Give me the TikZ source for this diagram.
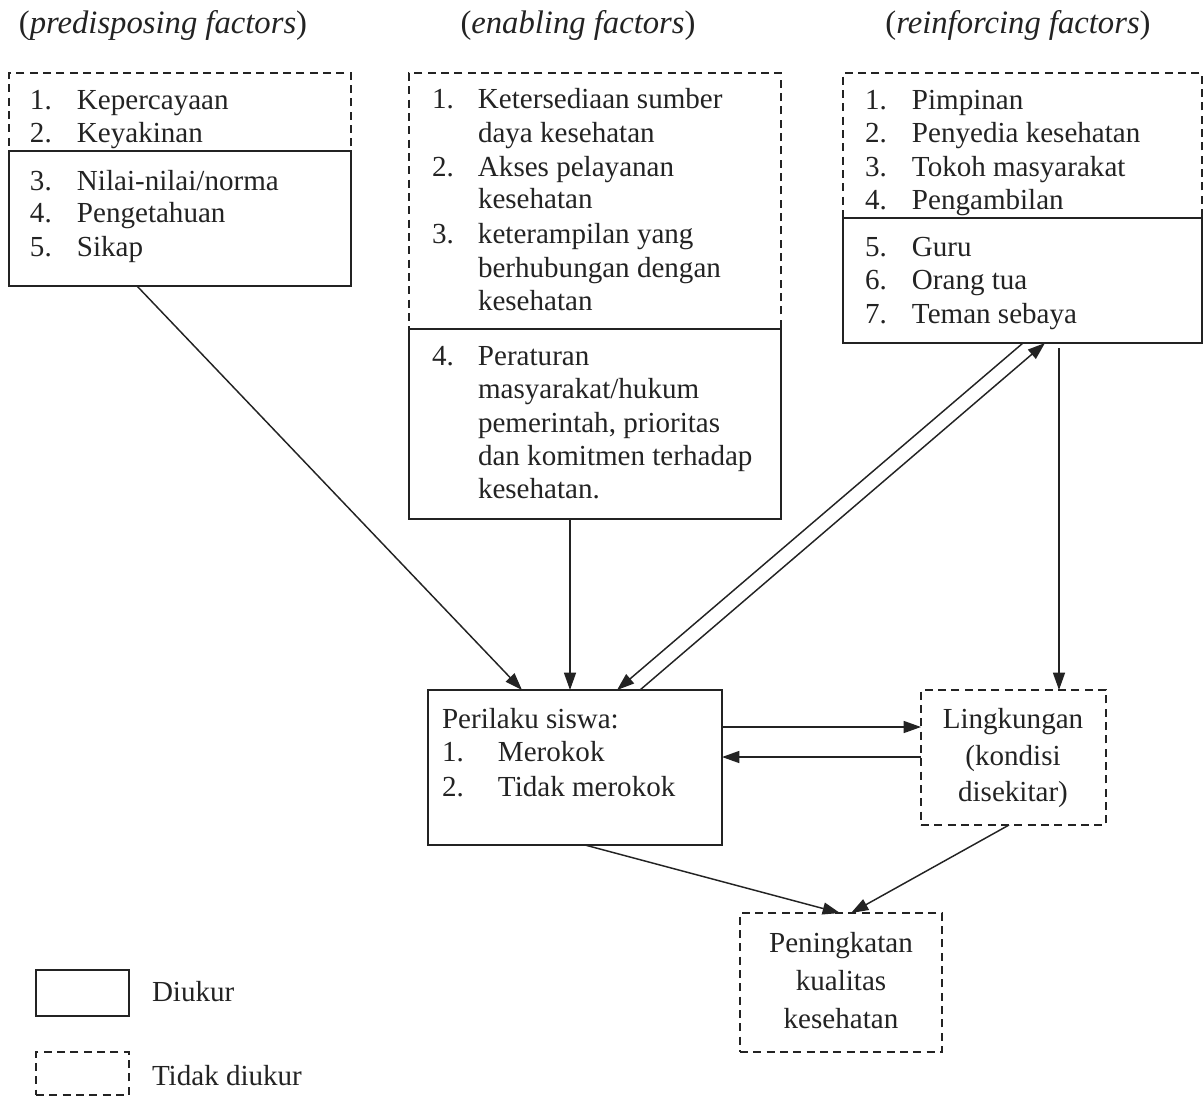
\documentclass[tikz,border=0pt]{standalone}
\usepackage{fontspec}
\setmainfont{Liberation Serif}
\usetikzlibrary{arrows.meta,calc}
\definecolor{ink}{RGB}{35,35,35}
\newcommand\mkbox[6]{\node[#1, minimum width={(#5-#3)*0.75pt}, minimum height={(#6-#4)*0.75pt}] (#2) at ({(#3+#5)/2},{(#4+#6)/2}) {};}
\newcommand\nl[6]{\node[txt,anchor=base west] (#1) at (#2,#3) {\makebox[#4pt][l]{#5}#6};}
\newcommand\li[4]{\node[txt,anchor=base west] (#1) at (#2,#3) {#4};}
\newcommand\ct[4]{\node[txt,anchor=base] (#1) at (#2,#3) {#4};}
\begin{document}
\begin{tikzpicture}[x=0.75pt,y=-0.75pt,
  solidbox/.style={draw=ink, line width=1.2pt, inner sep=0pt, outer sep=0pt, rectangle},
  dashbox/.style={draw=ink, line width=1.2pt, dash pattern=on 6pt off 4pt, inner sep=0pt, outer sep=0pt, rectangle},
  txt/.style={inner sep=0pt, outer sep=0pt, text=ink, font=\fontsize{21.8}{26}\selectfont},
  head/.style={txt, font=\fontsize{24.5}{29}\selectfont},
  arr/.style={draw=ink, line width=1.1pt, -{Triangle[length=13pt,width=9pt]}},
]
\useasboundingbox (0,0) rectangle (1204,1097);

% headers
\node[head, anchor=base] (h1) at (163,33) {(\textit{predisposing factors})};
\node[head, anchor=base] (h2) at (578,33) {(\textit{enabling factors})};
\node[head, anchor=base] (h3) at (1018,33) {(\textit{reinforcing factors})};

% boxes
\mkbox{dashbox}{preD}{9}{73}{351}{151}
\mkbox{solidbox}{preS}{9}{151}{351}{286}
\mkbox{dashbox}{enaD}{409}{73}{781}{329}
\mkbox{solidbox}{enaS}{409}{329}{781}{519}
\mkbox{dashbox}{reiD}{843}{73}{1202}{218}
\mkbox{solidbox}{reiS}{843}{218}{1202}{343}
\mkbox{solidbox}{per}{428}{690}{722}{845}
\mkbox{dashbox}{lin}{921}{690}{1106}{825}
\mkbox{dashbox}{pen}{740}{913}{942}{1052}
\mkbox{solidbox}{legS}{36}{970}{129}{1016}
\mkbox{dashbox}{legD}{36}{1052}{129}{1095}

% predisposing
\nl{pr1}{30}{109}{35.25}{1.}{Kepercayaan}
\nl{pr2}{30}{142}{35.25}{2.}{Keyakinan}
\nl{pr3}{30}{190}{35.25}{3.}{Nilai-nilai/norma}
\nl{pr4}{30}{222}{35.25}{4.}{Pengetahuan}
\nl{pr5}{30}{256}{35.25}{5.}{Sikap}

% enabling
\nl{en1}{432}{108}{34.5}{1.}{Ketersediaan sumber}
\li{en1b}{478}{142}{daya kesehatan}
\nl{en2}{432}{176}{34.5}{2.}{Akses pelayanan}
\li{en2b}{478}{208}{kesehatan}
\nl{en3}{432}{243}{34.5}{3.}{keterampilan yang}
\li{en3b}{478}{277}{berhubungan dengan}
\li{en3c}{478}{310}{kesehatan}
\nl{en4}{432}{365}{34.5}{4.}{Peraturan}
\li{en4b}{478}{398}{masyarakat/hukum}
\li{en4c}{478}{432}{pemerintah, prioritas}
\li{en4d}{478}{465}{dan komitmen terhadap}
\li{en4e}{478}{498}{kesehatan.}

% reinforcing
\nl{re1}{865}{109}{35.25}{1.}{Pimpinan}
\nl{re2}{865}{142}{35.25}{2.}{Penyedia kesehatan}
\nl{re3}{865}{176}{35.25}{3.}{Tokoh masyarakat}
\nl{re4}{865}{209}{35.25}{4.}{Pengambilan}
\nl{re5}{865}{256}{35.25}{5.}{Guru}
\nl{re6}{865}{289}{35.25}{6.}{Orang tua}
\nl{re7}{865}{323}{35.25}{7.}{Teman sebaya}

% perilaku
\li{pe0}{442}{728}{Perilaku siswa:}
\nl{pe1}{442}{761}{42}{1.}{Merokok}
\nl{pe2}{442}{796}{42}{2.}{Tidak merokok}

% lingkungan
\ct{ln1}{1013}{728}{Lingkungan}
\ct{ln2}{1013}{765}{(kondisi}
\ct{ln3}{1013}{801}{disekitar)}

% peningkatan
\ct{pk1}{841}{952}{Peningkatan}
\ct{pk2}{841}{990}{kualitas}
\ct{pk3}{841}{1028}{kesehatan}

% legend
\li{lg1}{152}{1001}{Diukur}
\li{lg2}{152}{1085}{Tidak diukur}

% connector end points
\coordinate (c1s) at ($(preS.south west)+(128,0)$);
\coordinate (c1e) at ($(per.north west)+(94,0)$);
\coordinate (c2s) at ($(enaS.south west)+(161,0)$);
\coordinate (c2e) at (per.north -| c2s);
\coordinate (c3s) at ($(reiS.south west)+(180,0)$);
\coordinate (c3e) at ($(per.north west)+(189,0)$);
\coordinate (c4s) at ($(per.north west)+(212,0)$);
\coordinate (c4e) at ($(reiS.south west)+(202,0)$);
\coordinate (c5s) at ($(reiS.south west)+(216,5)$);
\coordinate (c5e) at (lin.north -| c5s);
\coordinate (c6s) at ($(per.north east)+(0,37)$);
\coordinate (c6e) at (lin.west |- c6s);
\coordinate (c7s) at ($(lin.north west)+(0,67)$);
\coordinate (c7e) at (per.east |- c7s);
\coordinate (c8s) at ($(per.south west)+(157,0)$);
\coordinate (c8e) at ($(pen.north west)+(100,0)$);
\coordinate (c9s) at ($(lin.south west)+(88,0)$);
\coordinate (c9e) at ($(pen.north west)+(111,0)$);

\draw[arr] (c1s) -- (c1e);
\draw[arr] (c2s) -- (c2e);
\draw[arr] (c3s) -- (c3e);
\draw[arr] (c4s) -- (c4e);
\draw[arr] (c5s) -- (c5e);
\draw[arr] (c6s) -- (c6e);
\draw[arr] (c7s) -- (c7e);
\draw[arr] (c8s) -- (c8e);
\draw[arr] (c9s) -- (c9e);
\end{tikzpicture}
\end{document}
